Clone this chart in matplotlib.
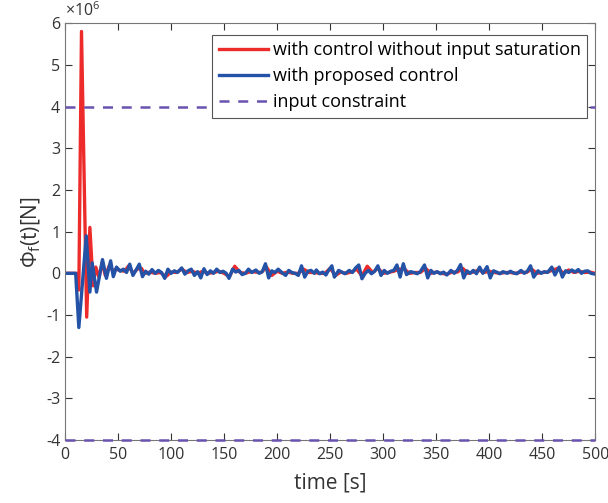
import numpy as np
import matplotlib
matplotlib.use("Agg")
import matplotlib.pyplot as plt

plt.rcParams['font.family'] = ['Open Sans', 'DejaVu Sans']
plt.rcParams['mathtext.fontset'] = 'custom'
plt.rcParams['mathtext.rm'] = 'Open Sans'
plt.rcParams['mathtext.it'] = 'Open Sans'
plt.rcParams['axes.unicode_minus'] = False

# proposed control (x1e6 N)
t_blue = [0, 10, 13, 20, 23.4, 25.6, 29.7, 35.3, 39, 43, 45.5, 48.5, 52, 55, 58, 61, 64, 67, 70, 73,
          76, 79, 82, 85, 88, 91, 94, 97, 100, 103, 106, 110, 113, 116, 119, 122, 125, 128, 131, 134,
          137, 140, 143, 146, 149, 152, 154.6, 158, 161, 164, 167, 170, 173, 176, 180, 183, 186, 189, 192, 195,
          198, 201, 204, 208, 211, 214, 217, 220, 223, 226, 229, 232, 235, 237, 240, 243, 246, 248, 251.6, 254,
          258, 261, 264, 268, 271, 274, 277, 280, 283, 286, 289, 292, 295, 298, 301, 304, 307, 310, 313, 316,
          319, 322, 326, 329, 332, 335, 339, 342, 345, 348, 351, 354, 357, 360, 364, 367, 370, 373, 376, 379,
          382, 385, 388, 391, 394, 398, 401, 404, 407, 410, 413, 417, 420, 423, 426, 430, 433, 436, 439, 442,
          446, 449, 452, 455, 459, 462, 466, 469, 472, 475, 478, 481, 484, 487, 490, 493, 496, 500]
blue = [0, 0, -1.3, 0.9, -0.45, 0.25, -0.45, 0.33, -0.12, 0.3, -0.08, 0.15, 0.05, 0.1, 0.02, 0.22, -0.05, 0.08, 0.22, -0.08,
        0.05, -0.02, 0.09, 0.0, 0.07, 0.02, -0.12, 0.1, 0.0, 0.06, 0.02, 0.13, -0.02, 0.06, 0.1, -0.05, 0.04, -0.11, 0.11, -0.03,
        0.06, 0.0, 0.1, 0.02, 0.05, 0.0, -0.12, 0.1, 0.03, 0.07, -0.03, 0.0, 0.1, 0.02, 0.08, 0.0, 0.04, 0.23, -0.11, 0.06,
        0.02, 0.1, 0.03, -0.05, 0.07, 0.02, 0.0, -0.05, 0.18, -0.09, 0.05, 0.07, 0.0, 0.08, -0.01, 0.03, -0.04, 0.05, 0.18, -0.09,
        0.07, 0.03, -0.01, 0.07, 0.02, 0.13, 0.2, -0.13, 0.0, 0.07, -0.01, 0.05, 0.18, -0.05, 0.07, 0.0, 0.05, 0.07, 0.2, -0.09,
        0.23, -0.03, 0.04, 0.02, -0.01, 0.04, 0.2, -0.11, 0.07, 0.0, 0.04, -0.01, 0.03, -0.04, 0.07, 0.0, 0.07, 0.21, -0.11, 0.06,
        0.0, 0.07, -0.01, 0.15, 0.0, 0.16, -0.11, 0.06, 0.03, -0.01, 0.04, 0.0, 0.05, 0.01, -0.01, 0.07, 0.0, 0.05, 0.18, -0.09,
        0.06, 0.0, 0.04, 0.02, 0.15, -0.04, 0.15, -0.09, 0.06, 0.02, 0.08, 0.03, 0.09, 0.0, 0.05, 0.06, 0.0, -0.02]

# control without input saturation (x1e6 N)
t_red = [0, 11, 13, 15.5, 20.4, 23.4, 26.5, 29, 32, 35, 38, 42, 45, 48, 52, 56, 60, 64, 68, 72, 75,
         80, 85, 90, 95, 100, 105, 110, 115, 120, 125, 130, 135, 140, 145, 150, 155,
         160, 165, 170, 175, 180, 185, 190, 195, 200, 205, 210, 215, 220, 225, 230, 235,
         240, 245, 250, 255, 260, 265, 270, 275, 280, 285, 290, 295, 300, 305, 310, 315,
         320, 325, 330, 335, 340, 345, 350, 355, 360, 365, 370, 375, 380, 385, 390, 395,
         400, 405, 410, 415, 420, 425, 430, 435, 440, 445, 450, 455, 460, 465, 470, 475,
         480, 485, 490, 495, 500]
red = [0, 0, -0.4, 5.8, -1.05, 1.1, -0.3, 0.15, -0.1, 0.25, -0.05, 0.2, 0.05, 0.1, 0.07, 0.05, 0.18, 0.0, 0.1, 0.12, 0.0,
       0.03, 0.0, 0.02, -0.08, 0.03, 0.02, 0.1, 0.02, 0.05, 0.0, 0.05, 0.0, 0.02, 0.05, 0.0, -0.08,
       0.17, 0.02, 0.0, 0.04, 0.03, 0.02, 0.15, -0.05, 0.05, 0.0, 0.03, 0.0, 0.0, 0.1, 0.02, 0.02,
       0.0, 0.0, 0.12, -0.05, 0.03, 0.0, 0.03, 0.1, -0.06, 0.17, 0.02, 0.12, 0.0, 0.02, 0.05, 0.1,
       0.1, 0.0, 0.02, 0.02, 0.12, 0.0, 0.03, 0.0, -0.02, 0.03, 0.03, 0.12, 0.0, 0.03, 0.08, 0.02,
       0.05, 0.02, 0.0, 0.02, 0.02, 0.0, 0.03, 0.02, 0.1, 0.0, 0.02, 0.03, 0.08, 0.12, 0.0, 0.08,
       0.02, 0.05, 0.02, 0.03, 0.0]

limit = 4  # input constraint, x1e6 N
xticks = np.arange(0, 501, 50)
yticks = np.arange(-4, 7, 1)

fig = plt.figure(figsize=(6.08, 5.03), dpi=100)
ax = fig.add_axes([0.107, 0.125, 0.872, 0.829])

ax.plot(t_red, red, color='#ee2b2b', lw=2.4, label='with control without input saturation')
ax.plot(t_blue, blue, color='#2352a6', lw=2.4, label='with proposed control')
ax.plot([0, 500], [limit, limit], color='#6a52b0', lw=1.8, ls=(0, (4, 3.5)),
        label='input constraint', clip_on=False, zorder=5)
ax.plot([0, 500], [-limit, -limit], color='#6a52b0', lw=1.8, ls=(0, (4, 3.5)),
        clip_on=False, zorder=5)

ax.set_xlim(0, 500)
ax.set_ylim(-4, 6)
ax.set_xticks(xticks)
ax.set_yticks(yticks)
ax.tick_params(direction='in', top=True, right=True, labelsize=11.5, colors='#333333',
               length=5, width=0.8)
ax.tick_params(axis='x', pad=5)
for s in ax.spines.values():
    s.set_color('#777777')
    s.set_linewidth(0.8)

ax.set_xlabel('time [s]', fontsize=15, color='#333333', labelpad=7)
ax.set_ylabel(r'$\Phi_f$(t)[N]', fontsize=15, color='#333333', labelpad=2)
ax.text(0.0, 1.008, r'$\times10^6$', transform=ax.transAxes, fontsize=11.5, color='#333333',
        ha='left', va='bottom')

leg = ax.legend(loc='upper right', bbox_to_anchor=(0.985, 0.972), fontsize=13, handlelength=2.7,
                handletextpad=0.3, borderpad=0.35, labelspacing=0.45, fancybox=False, framealpha=1,
                edgecolor='#555555', borderaxespad=0)
leg.get_frame().set_linewidth(0.8)

fig.savefig('out.png', dpi=100)
